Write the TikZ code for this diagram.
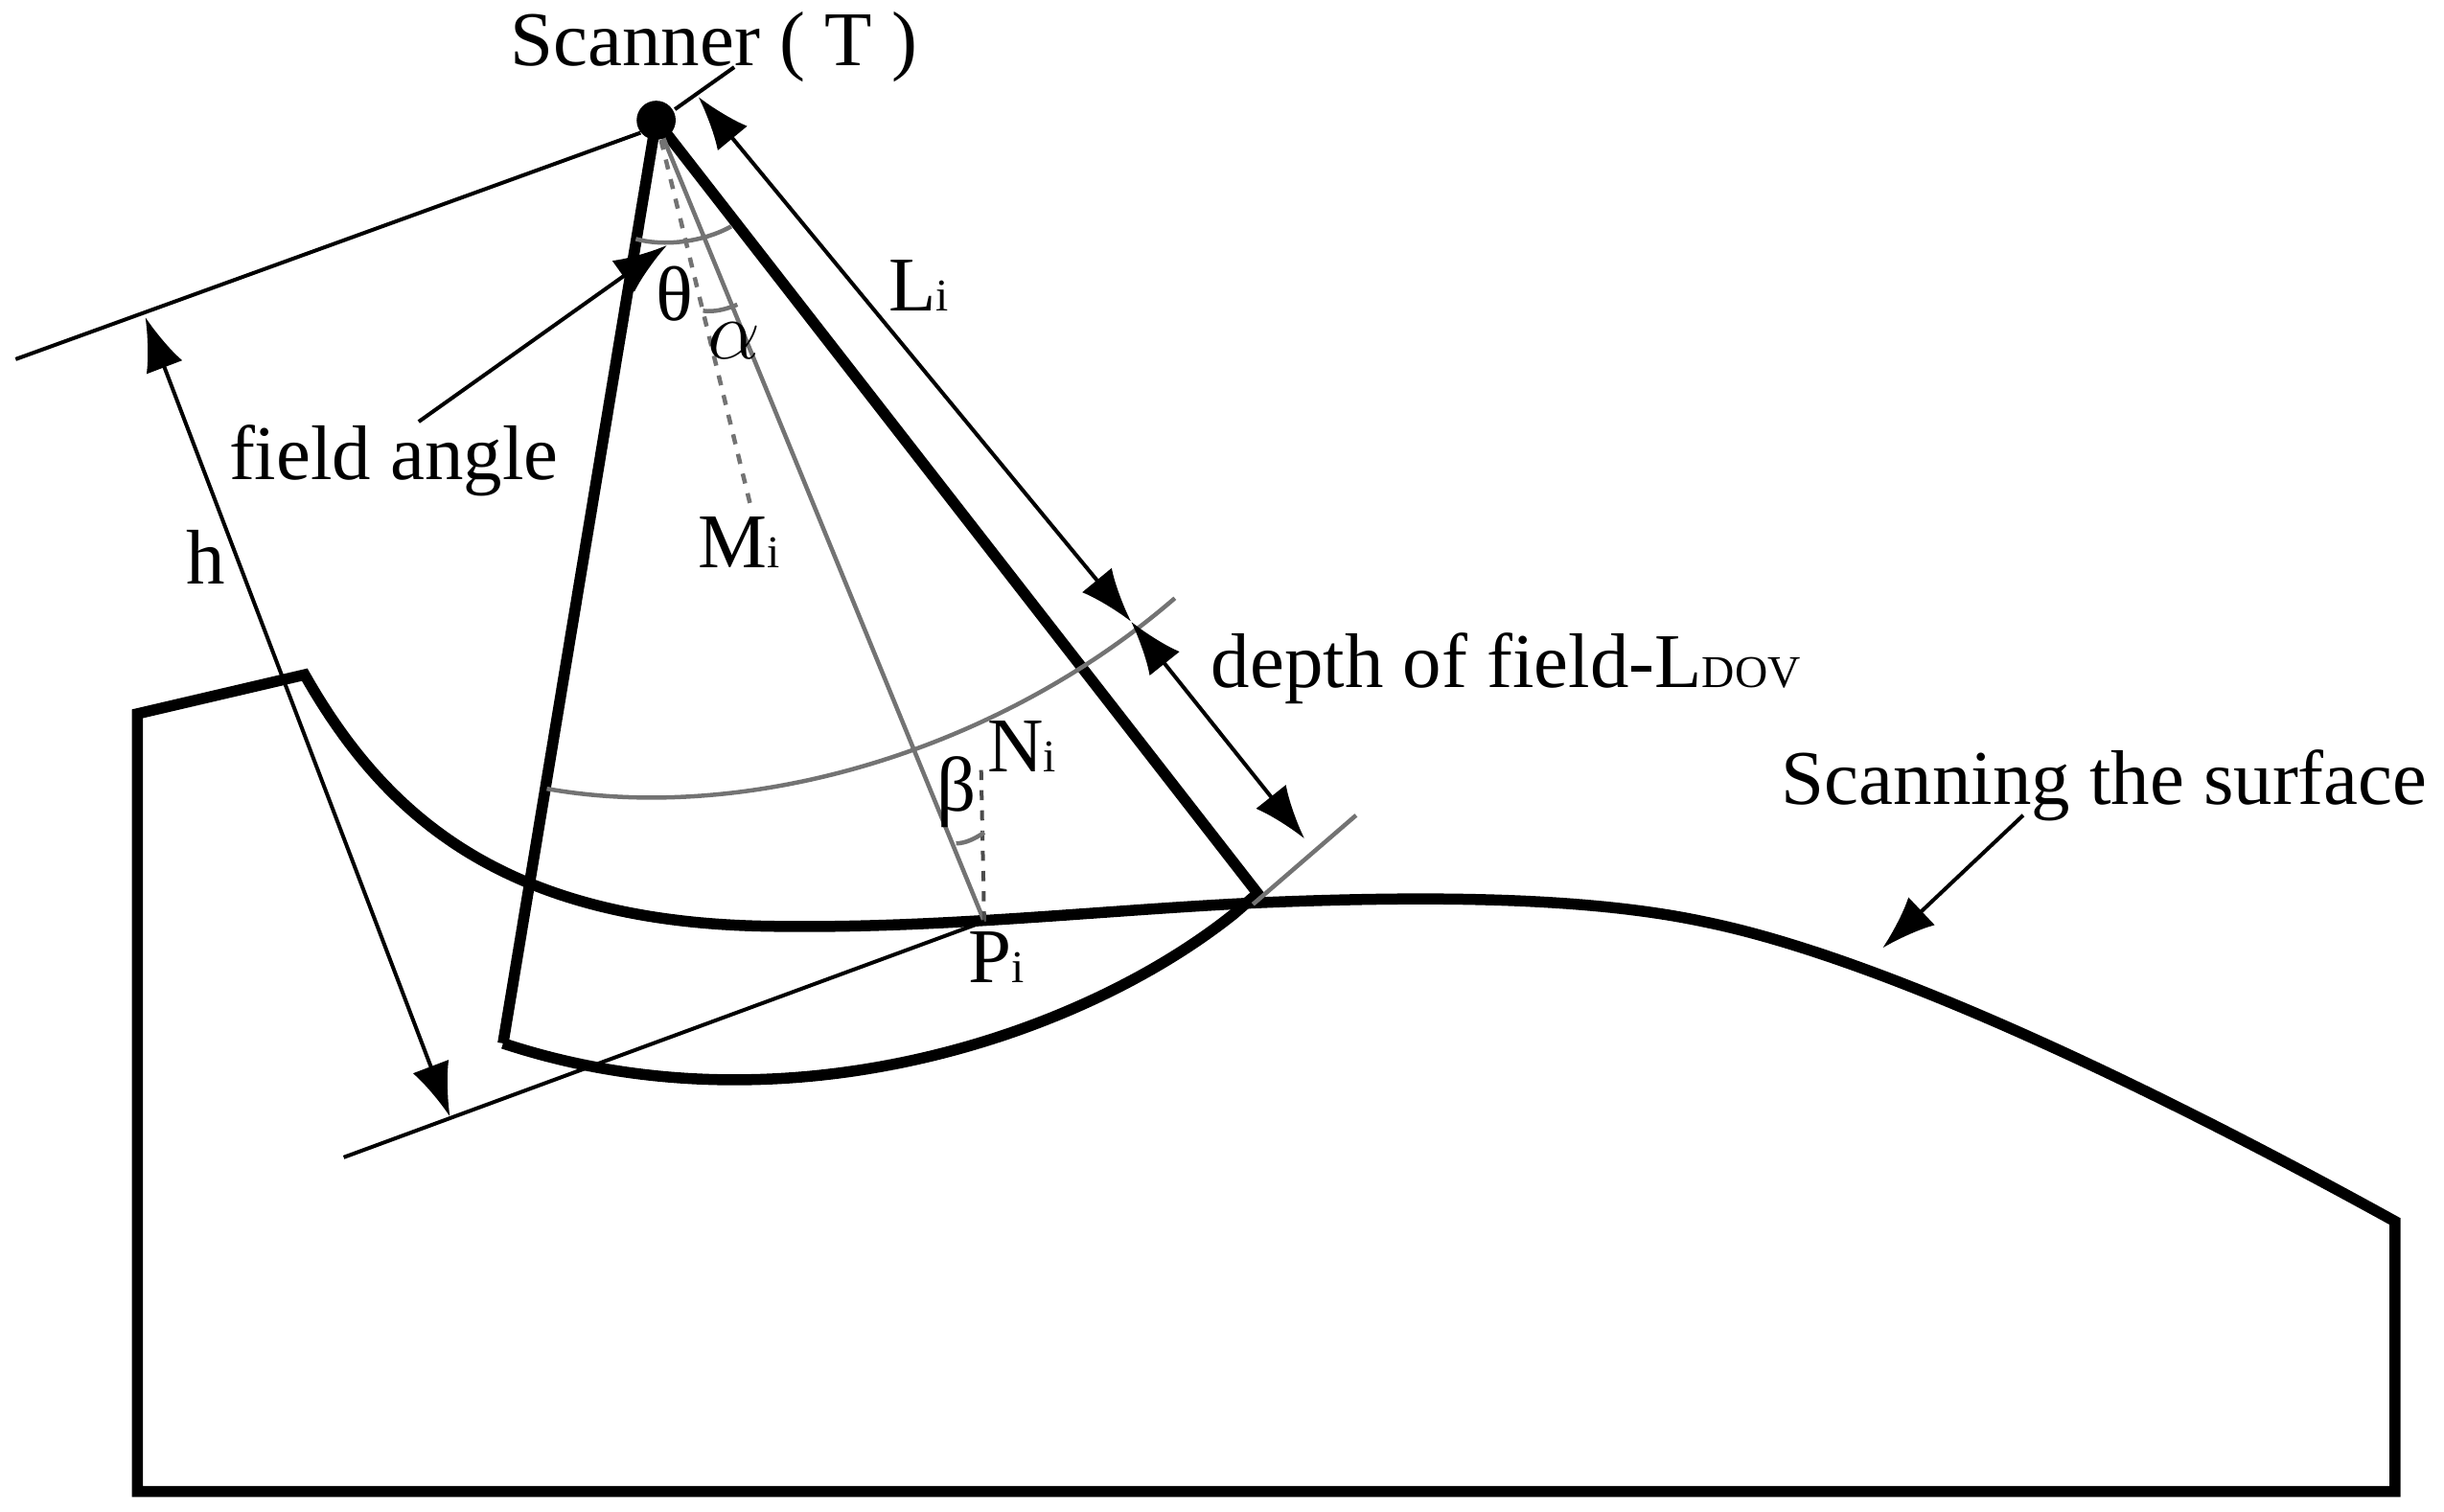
\documentclass[tikz,border=0pt]{standalone}
\usepackage{fontspec}
\setmainfont{Liberation Serif}
\usetikzlibrary{arrows.meta}
\tikzset{
	thick line/.style={line width=1.15mm, color=black, line join=miter},
	thin line/.style={line width=0.4mm, color=black},
	gray line/.style={line width=0.45mm, color=black!55},
	dim arrow/.style={thin line, {Latex[length=5.6mm,width=4mm]}-{Latex[length=5.6mm,width=4mm]}},
	lead arrow/.style={thin line, -{Latex[length=5.6mm,width=4mm]}},
	label text/.style={font=\fontsize{23}{26}\selectfont, inner sep=0pt}
}
\newcommand{\subtext}[1]{{\fontsize{13.5}{15}\selectfont #1}}
\begin{document}
\begin{tikzpicture}[x=0.0163cm, y=-0.0163cm]
	%%%%% START %%%%%
	\useasboundingbox (0, 0) rectangle (1564.4, 967.5);

	\coordinate (T) at (420, 77);
	\coordinate (A) at (322, 668);
	\coordinate (B) at (805, 572);
	\coordinate (P) at (630, 590);

	% ground
	\draw[thick line] (88, 955) -- (88, 457) -- (195, 432)
		.. controls (245, 520) and (320, 590) .. (490, 593)
		.. controls (600, 595) and (700, 583) .. (805, 578)
		.. controls (900, 574) and (1010, 573) .. (1090, 590)
		.. controls (1200, 612) and (1370, 692) .. (1533, 782)
		-- (1533, 955) -- cycle;

	% field of view
	\draw[thick line] (A) -- (T) -- (B) -- (790, 585)
		.. controls (690, 665) and (500, 727) .. (A);
	\draw[gray line] (350, 505) .. controls (480, 528) and (640, 480) .. (752, 383);
	\draw[gray line] (802, 579) -- (868, 522);
	\draw[gray line] (T) -- (P);
	\draw[gray line, dashed] (T) -- (480, 322);
	\draw[thin line, color=black!70, dashed] (P) -- (628, 492);

	% angles
	\draw[gray line] (407, 153) .. controls (425, 158) and (450, 155) .. (468, 145);
	\draw[gray line] (450, 199) .. controls (457, 200) and (465, 198) .. (472, 195);
	\draw[gray line] (612, 540) .. controls (618, 540) and (624, 537) .. (630, 533);

	% dimension lines
	\draw[thin line] (10, 230) -- (410, 85);
	\draw[thin line] (220, 741) -- (P);
	\draw[thin line] (432, 70) -- (470, 43);
	\draw[dim arrow] (93, 203) -- (288, 715);
	\draw[dim arrow] (447, 62) -- (724, 398);
	\draw[dim arrow] (724, 398) -- (835, 537);
	\draw[lead arrow] (268, 270) -- (427, 157);
	\draw[lead arrow] (1295, 522) -- (1205, 607);

	\fill (T) circle (12.5);

	% labels
	\node[label text] (scanner) at (457, 30) {Scanner ( T )};
	\node[label text] (field) at (252, 295) {field angle};
	\node[label text] (hlabel) at (132, 357) {h};
	\node[label text] (theta) at (432, 188) {θ};
	\node[label text] (alpha) at (470, 218) {$\alpha$};
	\node[label text] (M) at (473, 347) {M\subtext{i}};
	\node[label text] (L) at (588, 183) {L\subtext{i}};
	\node[label text, anchor=base west] (depth) at (775, 440) {depth of field-L\subtext{DOV}};
	\node[label text] (N) at (654, 478) {N\subtext{i}};
	\node[label text] (beta) at (612, 507) {β};
	\node[label text] (Plabel) at (638, 613) {P\subtext{i}};
	\node[label text, anchor=base west] (surface) at (1140, 515) {Scanning the surface};
	%%%%% END %%%%%
\end{tikzpicture}
\end{document}
